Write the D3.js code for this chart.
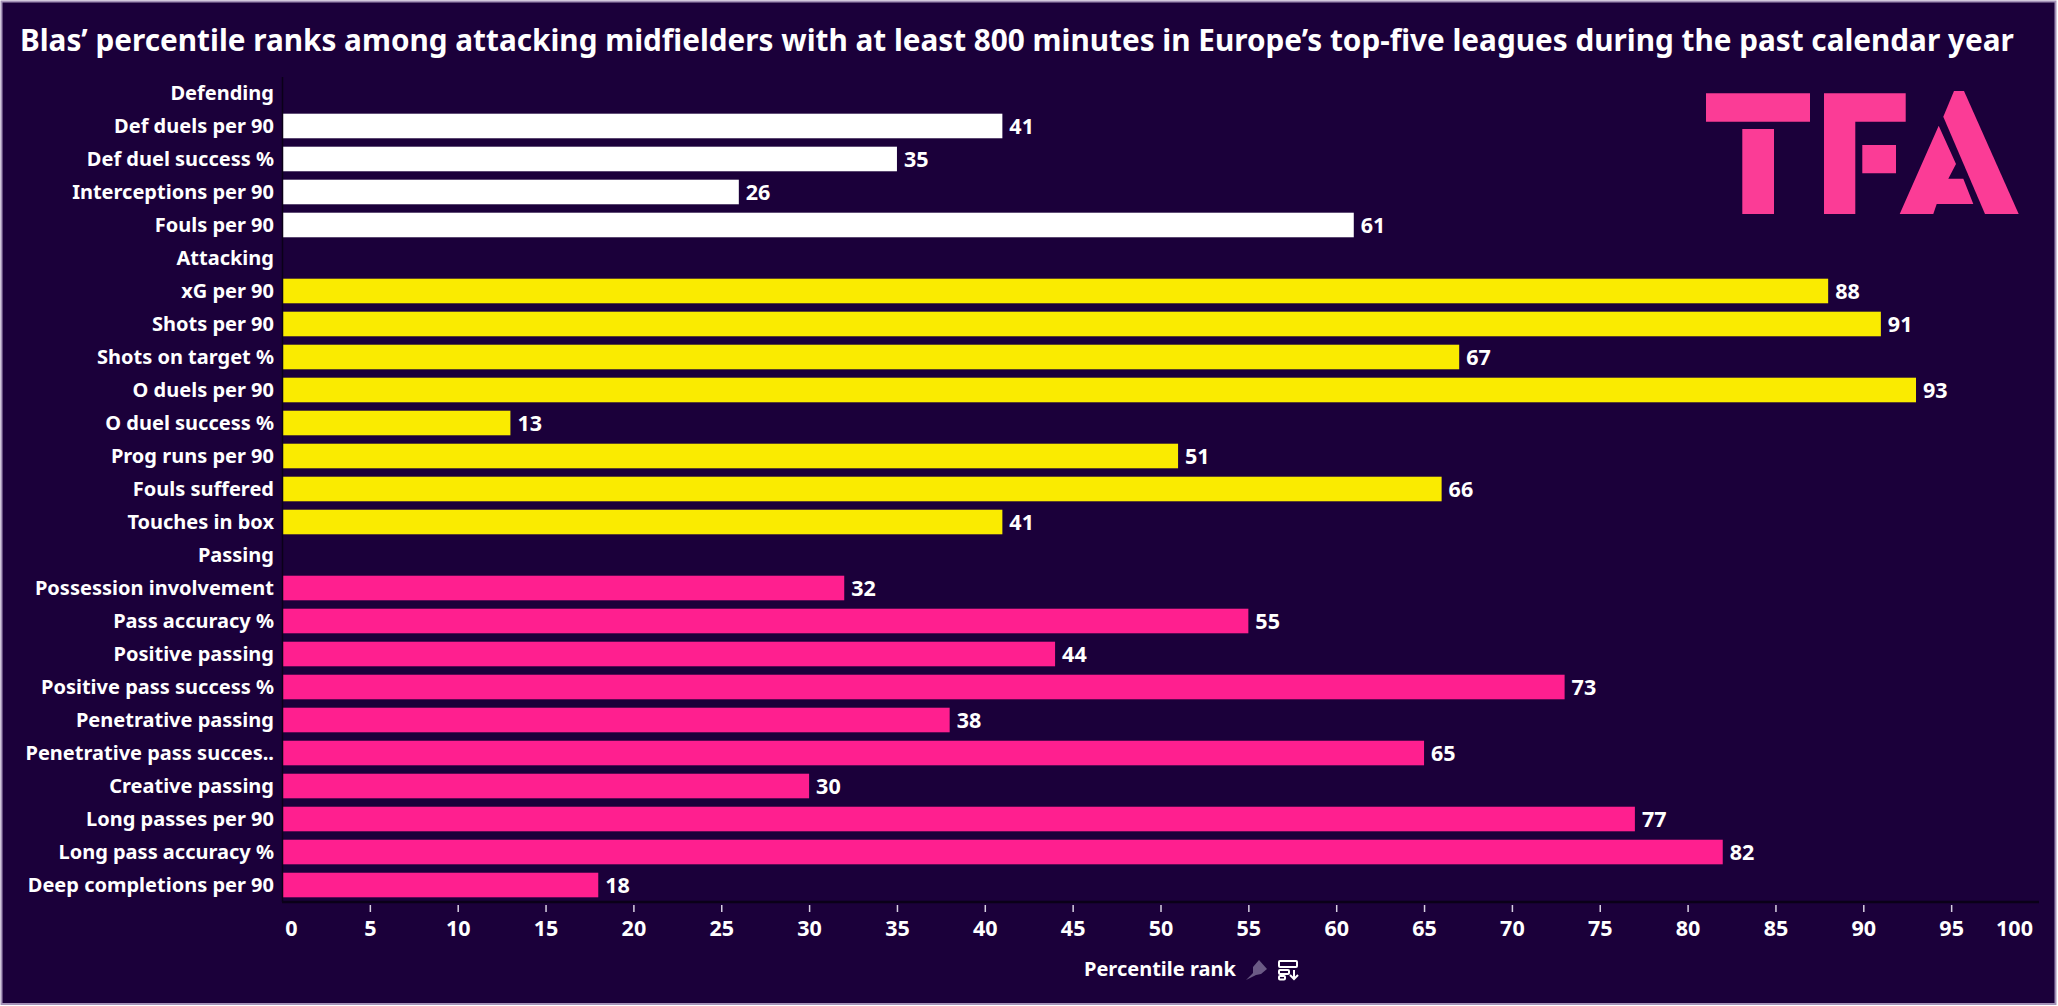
<!DOCTYPE html>
<html><head><meta charset="utf-8">
<style>
html,body{margin:0;padding:0;background:#fff;overflow:hidden}
svg{display:block}
text{font-family:"Noto Sans",sans-serif;fill:#fff}
</style>
<script src="https://cdn.jsdelivr.net/npm/d3@7"></script>
</head><body>
<svg id="c" width="2058" height="1006"></svg>
<script>
const titleText = "Blas’ percentile ranks among attacking midfielders with at least 800 minutes in Europe’s top-five leagues during the past calendar year";
const axisTitle = "Percentile rank";
const categories = ["Defending","Def duels per 90","Def duel success %","Interceptions per 90","Fouls per 90","Attacking","xG per 90","Shots per 90","Shots on target %","O duels per 90","O duel success %","Prog runs per 90","Fouls suffered","Touches in box","Passing","Possession involvement","Pass accuracy %","Positive passing","Positive pass success %","Penetrative passing","Penetrative pass succes..","Creative passing","Long passes per 90","Long pass accuracy %","Deep completions per 90"];
const values = [null,41,35,26,61,null,88,91,67,93,13,51,66,41,null,32,55,44,73,38,65,30,77,82,18];
const groups = ["d","d","d","d","d","a","a","a","a","a","a","a","a","a","p","p","p","p","p","p","p","p","p","p","p"];
const groupNames = ["d","a","p"];
const groupColors = ["#ffffff","#faeb00","#ff1f8f"];
const tickVals = d3.range(0,101,5);

const svg = d3.select("#c");
svg.append("rect").attr("x",1.5).attr("y",1.5).attr("width",2054).attr("height",1002.5)
  .attr("fill","#1b003a").attr("stroke","#a593b8").attr("stroke-width",2);

const x = d3.scaleLinear().domain([0,100]).range([282,2039]);
const y = d3.scaleBand().domain(categories).range([76.5,901.5]).paddingInner(0.255).paddingOuter(0.127);
const color = d3.scaleOrdinal().domain(groupNames).range(groupColors);

svg.append("text").attr("x",20).attr("y",51).attr("font-size",29.72).attr("font-weight",700).text(titleText);

const rows = categories.map((c,i)=>({c,v:values[i],g:groups[i]})).filter(d=>d.v!==null);
svg.append("g").selectAll("rect").data(rows).join("rect")
  .attr("x",x(0)).attr("y",d=>y(d.c)).attr("width",d=>x(d.v)-x(0)).attr("height",y.bandwidth())
  .attr("fill",d=>color(d.g));
svg.append("g").selectAll("text").data(rows).join("text")
  .attr("x",d=>x(d.v)+7).attr("y",d=>y(d.c)+y.bandwidth()/2+0.5).attr("dy","0.36em")
  .attr("font-size",21.5).attr("font-weight",700).text(d=>d.v);

const ya = svg.append("g").attr("transform",`translate(${x(0)},0)`).call(d3.axisLeft(y).tickSize(0).tickPadding(8));
ya.select(".domain").attr("stroke","#0a0018").attr("stroke-width",1.5);
ya.selectAll("text").attr("font-size",20).attr("font-weight",700).attr("font-family",'"Noto Sans",sans-serif').attr("fill","#fff").attr("y",1);

const xa = svg.append("g").attr("transform","translate(0,902)")
  .call(d3.axisBottom(x).tickValues(tickVals).tickSize(0).tickPadding(19));
xa.select(".domain").attr("stroke","#0a0018").attr("stroke-width",2.5).attr("d",`M${x(0)},0H2039`);
xa.selectAll("text").attr("font-size",21.5).attr("font-weight",700).attr("font-family",'"Noto Sans",sans-serif').attr("fill","#fff");
xa.selectAll(".tick").filter(d=>d>0&&d<100).select("line").attr("y1",3).attr("y2",10).attr("stroke","#d8d0e2").attr("stroke-width",1.5);
xa.selectAll(".tick").filter(d=>d===0).select("text").attr("dx",9);
xa.selectAll(".tick").filter(d=>d===100).select("text").attr("dx",-25);

svg.append("text").attr("x",1084).attr("y",976).attr("font-size",20).attr("font-weight",700).text(axisTitle);

// pin + data-source icons
svg.append("path").attr("fill","#6b5a85").attr("d","M1246,980 L1253,973 L1253,967 L1259,960 L1267,969 L1261,974 L1256,975 Z");
const ic = svg.append("g").attr("fill","none").attr("stroke","#fff").attr("stroke-width",2);
ic.append("rect").attr("x",1279).attr("y",961).attr("width",18).attr("height",6).attr("rx",1);
ic.append("rect").attr("x",1279).attr("y",970).attr("width",10).attr("height",4).attr("rx",1);
ic.append("rect").attr("x",1279).attr("y",976).attr("width",6).attr("height",3.5).attr("rx",1);
ic.append("path").attr("d","M1294,970V978M1290,975L1294,979L1298,975");

// TFA logo
const logo = svg.append("g").attr("fill","#fb3c96");
const lp = (pts)=>pts.map(p=>[1650+p[0]/3,60+p[1]/3].map(v=>v.toFixed(1)).join(",")).join(" ");
[
 [[168,100],[480,100],[480,185],[168,185]],
 [[277,207],[372,207],[372,462],[277,462]],
 [[522,100],[767,100],[767,185],[616,185],[616,462],[522,462]],
 [[637,255],[738,255],[738,340],[637,340]],
 [[912,93],[942,93],[1106,462],[1005,462],[880,170]],
 [[866,197],[918,312],[895,356],[940,356],[970,432],[860,432],[850,462],[749,462]]
].forEach(p=>logo.append("polygon").attr("points",lp(p)));
</script>
</body></html>
